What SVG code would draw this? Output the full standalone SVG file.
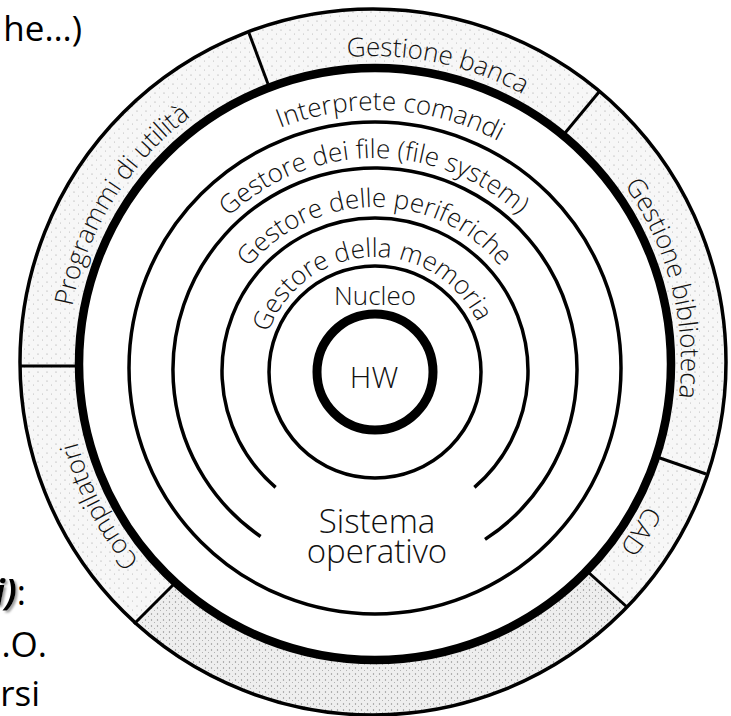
<svg xmlns="http://www.w3.org/2000/svg" width="731" height="716" viewBox="0 0 731 716">
<defs>
<style>
.lbl{font-family:"Open Sans","Noto Sans","DejaVu Sans",sans-serif;font-size:26px;font-weight:300;fill:#111}
.big{font-size:33px}
.hw{font-size:30px}
.slide{font-family:"Open Sans","Noto Sans","DejaVu Sans",sans-serif;font-size:35px;fill:#000}
.thin{fill:none;stroke:#000;stroke-width:3.5}
.thick{fill:none;stroke:#000;stroke-width:8.5}
.sep{stroke:#000;stroke-width:3;fill:none}
</style>
<pattern id="stip" width="9" height="9" patternUnits="userSpaceOnUse">
<rect width="9" height="9" fill="#f7f7f7"/>
<circle cx="2" cy="3" r="0.6" fill="#9a9a9a"/>
<circle cx="6.5" cy="7" r="0.5" fill="#b0b0b0"/>
</pattern>
<pattern id="stipd" width="6" height="6" patternUnits="userSpaceOnUse">
<rect width="6" height="6" fill="#eeeeee"/>
<circle cx="1.5" cy="2" r="0.7" fill="#8a8a8a"/>
<circle cx="4.5" cy="4.5" r="0.5" fill="#a0a0a0"/>
</pattern>
<filter id="sh" x="-20%" y="-20%" width="140%" height="140%">
<feDropShadow dx="2" dy="2" stdDeviation="1.2" flood-color="#777" flood-opacity="0.7"/>
</filter>
<path id="pBand" d="M 67 363 A 307 307 0 1 1 681 363 A 307 307 0 1 1 67 363"/>
<path id="pInt" d="M 116 369 A 259 259 0 1 1 634 369 A 259 259 0 1 1 116 369"/>
<path id="pFile" d="M 164 369 A 211 211 0 1 1 586 369 A 211 211 0 1 1 164 369"/>
<path id="pPer" d="M 213 369 A 162 162 0 1 1 537 369 A 162 162 0 1 1 213 369"/>
<path id="pMem" d="M 262 370 A 113 113 0 1 1 488 370 A 113 113 0 1 1 262 370"/>
</defs>

<g id="slide-text">
<text class="slide" x="82" y="41" text-anchor="end">he…)</text>
<text class="slide" x="26" y="605" text-anchor="end"><tspan font-weight="bold" font-style="italic" filter="url(#sh)">i)</tspan>:</text>
<text class="slide" x="47" y="657" text-anchor="end">.O.</text>
<text class="slide" x="40" y="706" text-anchor="end">rsi</text>
</g>

<g id="applications-band">
<path d="M 20 362 A 353 353 0 1 1 726 362 A 353 353 0 1 1 20 362 Z M 79 364 A 296 296 0 1 0 671 364 A 296 296 0 1 0 79 364 Z" fill="url(#stip)" fill-rule="evenodd"/>
<path d="M 588 572 L 627 607 A 353 353 0 0 1 134 624 L 173 585 A 296 296 0 0 0 588 572 Z" fill="url(#stipd)"/>
<circle class="thin" cx="373" cy="362" r="353"/>
</g>

<g id="separators">
<line class="sep" x1="268" y1="84" x2="249" y2="33"/>
<line class="sep" x1="565" y1="133" x2="599" y2="92"/>
<line class="sep" x1="657" y1="457" x2="706" y2="474"/>
<line class="sep" x1="588" y1="572" x2="627" y2="607"/>
<line class="sep" x1="173" y1="585" x2="134" y2="624"/>
<line class="sep" x1="80" y1="366" x2="20" y2="366"/>
</g>

<g id="ring-os">
<circle class="thick" cx="375" cy="364" r="296"/>
</g>
<g id="ring-interprete">
<circle class="thin" cx="375" cy="368" r="246"/>
</g>
<g id="ring-file">
<path class="thin" d="M 260.6 536.5 A 202 202 0 1 1 485 539.4"/>
</g>
<g id="ring-periferiche">
<path class="thin" d="M 275.6 487.3 A 153 153 0 1 1 474.4 487.3"/>
</g>
<g id="ring-memoria">
<circle class="thin" cx="375" cy="372" r="106"/>
</g>
<g id="ring-hw">
<circle cx="375" cy="372" r="58" fill="none" stroke="#000" stroke-width="9"/>
<text class="lbl hw" x="374" y="388" text-anchor="middle">HW</text>
</g>

<g id="labels">
<text class="lbl"><textPath href="#pBand" startOffset="8.89%" text-anchor="middle">Programmi di utilità</textPath></text>
<text class="lbl"><textPath href="#pBand" startOffset="28.33%" text-anchor="middle">Gestione banca</textPath></text>
<text class="lbl"><textPath href="#pBand" startOffset="46%" text-anchor="middle">Gestione biblioteca</textPath></text>
<text class="lbl"><textPath href="#pBand" startOffset="58.97%" text-anchor="middle">CAD</textPath></text>
<text class="lbl"><textPath href="#pBand" startOffset="92.36%" text-anchor="middle">Compilatori</textPath></text>
<text class="lbl"><textPath href="#pInt" startOffset="25.97%" text-anchor="middle">Interprete comandi</textPath></text>
<text class="lbl"><textPath href="#pFile" startOffset="24.89%" text-anchor="middle">Gestore dei file (file system)</textPath></text>
<text class="lbl"><textPath href="#pPer" startOffset="24.94%" text-anchor="middle">Gestore delle periferiche</textPath></text>
<text class="lbl"><textPath href="#pMem" startOffset="24.22%" text-anchor="middle">Gestore della memoria</textPath></text>
<text class="lbl" x="375" y="305" text-anchor="middle">Nucleo</text>
<text class="lbl big" x="377" y="533" text-anchor="middle">Sistema</text>
<text class="lbl big" x="377" y="563" text-anchor="middle">operativo</text>
</g>
</svg>
